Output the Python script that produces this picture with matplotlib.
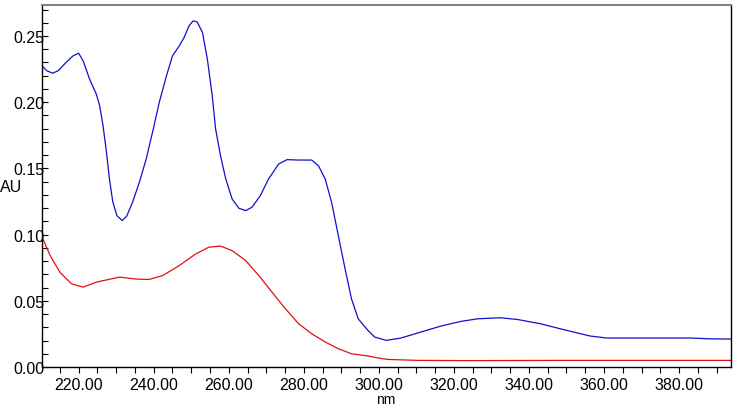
import matplotlib.pyplot as plt
from matplotlib.ticker import MultipleLocator, FormatStrFormatter

plt.rcParams['font.family'] = ['Liberation Sans', 'DejaVu Sans']

# blue spectrum (nm, AU)
blue_nm = [210.1, 211.5, 213.1, 214.5, 216.8, 218.5, 220.0, 221.2, 222.9, 224.7,
           225.6, 226.5, 227.4, 228.2, 229.1, 230.2, 231.6, 232.8, 234.4, 236.2,
           238.0, 239.7, 241.5, 243.3, 245.0, 246.8, 248.1, 249.4, 250.5, 251.6,
           253.0, 254.3, 255.6, 256.5, 257.8, 259.2, 260.9, 262.7, 264.5, 266.2,
           268.4, 270.6, 273.3, 275.5, 278.6, 282.1, 283.9, 285.7, 287.4, 289.2,
           291.0, 292.7, 294.5, 297.1, 298.9, 302.0, 305.9, 311.2, 316.5, 321.8,
           326.3, 332.4, 336.9, 343.0, 348.3, 351.9, 356.3, 360.7, 374.0, 382.8,
           388.1, 393.8]
blue_au = [0.2280, 0.2237, 0.2219, 0.2237, 0.2305, 0.2350, 0.2370, 0.2312, 0.2175, 0.2061,
           0.1973, 0.1822, 0.1624, 0.1420, 0.1247, 0.1143, 0.1106, 0.1139, 0.1247, 0.1397,
           0.1571, 0.1775, 0.2001, 0.2189, 0.2350, 0.2425, 0.2489, 0.2576, 0.2614, 0.2606,
           0.2526, 0.2325, 0.2048, 0.1797, 0.1596, 0.1420, 0.1269, 0.1199, 0.1181, 0.1207,
           0.1294, 0.1420, 0.1533, 0.1566, 0.1563, 0.1563, 0.1520, 0.1420, 0.1244, 0.0992,
           0.0741, 0.0515, 0.0364, 0.0276, 0.0226, 0.0201, 0.0219, 0.0264, 0.0309, 0.0344,
           0.0364, 0.0372, 0.0359, 0.0327, 0.0289, 0.0264, 0.0234, 0.0219, 0.0219, 0.0219,
           0.0213, 0.0211]

# red spectrum (nm, AU)
red_nm = [210.1, 212.4, 215.0, 218.1, 221.2, 224.7, 230.9, 235.3, 238.8, 242.4,
          246.8, 251.2, 254.7, 257.8, 260.9, 264.5, 268.0, 271.5, 275.1, 278.6,
          282.1, 285.7, 289.2, 292.7, 297.1, 299.8, 302.4, 310.4, 323.6, 350.1,
          393.8]
red_au = [0.0992, 0.0842, 0.0716, 0.0628, 0.0603, 0.0641, 0.0679, 0.0664, 0.0661, 0.0691,
          0.0766, 0.0854, 0.0905, 0.0913, 0.0879, 0.0804, 0.0691, 0.0566, 0.0440, 0.0327,
          0.0251, 0.0189, 0.0138, 0.0100, 0.0083, 0.0068, 0.0057, 0.0050, 0.0048, 0.0050,
          0.0050]

fig = plt.figure(figsize=(7.36, 4.06), dpi=100)
ax = fig.add_axes([0.0564, 0.0936, 0.9366, 0.8916])

ax.plot(blue_nm, blue_au, color='#1010c8', lw=0.9)
ax.plot(red_nm, red_au, color='#e01010', lw=0.9)

ax.set_xlim(210.1, 393.8)
ax.set_ylim(0, 0.2734)

ax.xaxis.set_major_locator(MultipleLocator(20))
ax.xaxis.set_minor_locator(MultipleLocator(5))
ax.xaxis.set_major_formatter(FormatStrFormatter('%.2f'))
ax.yaxis.set_major_locator(MultipleLocator(0.05))
ax.yaxis.set_minor_locator(MultipleLocator(0.01))
ax.yaxis.set_major_formatter(FormatStrFormatter('%.2f'))

ax.tick_params(axis='x', which='both', direction='out', length=4, width=0.8,
               labelsize=11.5, pad=3)
ax.tick_params(axis='y', which='both', direction='in', length=4, width=0.8,
               labelsize=11.5, pad=-2)

for side in ['left', 'bottom', 'right']:
    ax.spines[side].set_color('black')
    ax.spines[side].set_linewidth(1.0)
ax.spines['top'].set_color('#808080')
ax.spines['top'].set_linewidth(1.5)

ax.set_xlabel('nm', fontsize=10, labelpad=0)
ax.set_ylabel('AU', fontsize=11.5, rotation=0, ha='left', va='center')
ax.yaxis.set_label_coords(-0.060, 0.50)

fig.savefig('out.png', dpi=100)
